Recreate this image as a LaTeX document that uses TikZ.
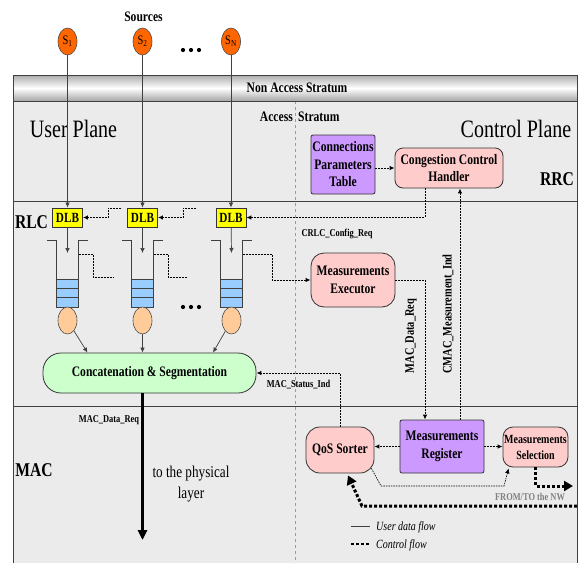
\documentclass[tikz,border=0pt]{standalone}
\usepackage{fontspec}
\setmainfont{Liberation Serif}[FakeStretch=0.8]
\usetikzlibrary{arrows.meta,shapes.geometric,calc}
\definecolor{bgray}{HTML}{EBEBEB}
\definecolor{purp}{HTML}{CC99FF}
\definecolor{pinkb}{HTML}{FFCCCC}
\definecolor{lgreen}{HTML}{CCFFCC}
\definecolor{peach}{HTML}{FFCC99}
\definecolor{qblue}{HTML}{99CCFF}
\definecolor{srcor}{HTML}{FF6600}
\definecolor{dlby}{HTML}{FFFF00}
\tikzset{
 frm/.style={draw=black!75, line width=0.8pt},
 bx/.style={draw=black!80, line width=0.8pt, align=center, inner sep=0pt, font=\bfseries\fontsize{14.5}{17.5}\selectfont},
 rbx/.style={bx, rounded corners=9pt},
 usr/.style={draw=black!75, line width=0.7pt},
 ctl/.style={draw=black, line width=1pt, dash pattern=on 2pt off 1pt},
 thinctl/.style={draw=black, line width=0.6pt, dash pattern=on 1.5pt off 1pt},
 bigctl/.style={draw=black, line width=3pt, dash pattern=on 3pt off 2pt},
 tip/.style={-{Latex[length=5pt,width=4.5pt]}},
 bigtip/.style={-{Triangle[length=9pt,width=10pt]}},
 lbl/.style={font=\bfseries\fontsize{10.5}{12}\selectfont, inner sep=0pt},
 vlbl/.style={font=\bfseries\fontsize{13}{15}\selectfont, inner sep=0pt, rotate=90},
 ttl/.style={font=\bfseries\fontsize{14.5}{17}\selectfont, inner sep=0pt},
 big/.style={font=\fontsize{25}{30}\selectfont, inner sep=0pt},
 layername/.style={font=\bfseries\fontsize{19.5}{22}\selectfont, inner sep=0pt},
 src/.style={ellipse, draw=black!70, line width=0.6pt, fill=srcor, minimum width=19pt, minimum height=27pt, inner sep=0pt, font=\fontsize{13}{15}\selectfont},
 pch/.style={ellipse, draw=black!70, line width=0.6pt, fill=peach, minimum width=19pt, minimum height=27pt, inner sep=0pt},
 dlbbox/.style={draw=black!80, line width=0.8pt, fill=dlby, minimum width=30pt, minimum height=19pt, inner sep=0pt, font=\bfseries\fontsize{14}{16}\selectfont},
 qblk/.style={draw=black!75, line width=0.6pt, fill=qblue},
 wall/.style={draw=black!75, line width=0.8pt},
}
\begin{document}
\begin{tikzpicture}[x=1pt,y=-1pt]
\useasboundingbox (0,0) rectangle (578,563);
% backgrounds
\fill[white] (0,0) rectangle (578,563);
\fill[bgray] (13,101) rectangle (577,563);
\shade[top color=gray!65, bottom color=gray!70, middle color=white] (13,75) rectangle (577,101);
\draw[gray!80, dashed, line width=0.7pt] (295,101) -- (295,563);
\draw[frm] (13,563) -- (13,75) -- (577,75) -- (577,563);
\draw[frm] (13,101) -- (577,101);
\draw[frm] (13,201) -- (577,201);
\draw[frm] (13,406) -- (577,406);

% titles
\node[ttl, anchor=base] (srclbl) at (143.5,21) {Sources};
\node[ttl] (nas) at (297,88) {Non Access Stratum};
\node[ttl, anchor=base east] (as1) at (293,121) {Access};
\node[ttl, anchor=base west] (as2) at (298,121) {Stratum};
\node[big, anchor=base] (up) at (73.5,137) {User Plane};
\node[big, anchor=base] (cp) at (516,137) {Control Plane};
\node[layername, anchor=base] (rrc) at (557,185) {RRC};
\node[layername, anchor=base] (rlc) at (31.5,228) {RLC};
\node[layername, anchor=base] (mac) at (34,476) {MAC};

% sources
\node[src] (s1) at (67.5,41.5) {S\textsubscript{1}};
\node[src] (s2) at (142.5,41.5) {S\textsubscript{2}};
\node[src] (sn) at (231,41.5) {S\textsubscript{N}};
\foreach \xx in {183,191,199} { \fill (\xx,50) circle (2.1); \fill (\xx,307) circle (2.1); }

% DLBs
\node[dlbbox] (dlb1) at (67.5,217.5) {DLB};
\node[dlbbox] (dlb2) at (142.5,217.5) {DLB};
\node[dlbbox] (dlb3) at (231,217.5) {DLB};
\draw[usr, tip] (s1) -- (dlb1);
\draw[usr, tip] (s2) -- (dlb2);
\draw[usr, tip] (sn) -- (dlb3);

% queues
\foreach \cx/\nm in {67.5/1,142.5/2,231.5/3} {
  \draw[wall] (\cx-20.5,240) -- (\cx-11,240) -- (\cx-11,279);
  \draw[wall] (\cx+11,279) -- (\cx+11,240) -- (\cx+20.5,240);
  \filldraw[qblk] (\cx-11,279) rectangle (\cx+11,288.3);
  \filldraw[qblk] (\cx-11,288.3) rectangle (\cx+11,297.6);
  \filldraw[qblk] (\cx-11,297.6) rectangle (\cx+11,307);
  \coordinate (qin\nm) at (\cx,253);
  \coordinate (qout\nm) at (\cx+11,254);
}
\draw[usr, tip] (dlb1) -- (qin1);
\draw[usr, tip] (dlb2) -- (qin2);
\draw[usr, tip] (dlb3) -- (qin3);
\node[pch] (e1) at (67.5,320.5) {};
\node[pch] (e2) at (142.5,320.5) {};
\node[pch] (e3) at (231.5,320.5) {};

% boxes
\node[bx, fill=purp, rounded corners=2pt, minimum width=64pt, minimum height=59pt] (cpt) at (343,164.5) {Connections\\Parameters\\Table};
\node[rbx, fill=pinkb, rounded corners=8pt, minimum width=108pt, minimum height=40pt] (cch) at (449,168) {Congestion Control\\Handler};
\node[rbx, fill=pinkb, rounded corners=13pt, minimum width=84pt, minimum height=54pt] (me) at (353,280) {Measurements\\Executor};
\node[rbx, fill=lgreen, rounded corners=18pt, minimum width=213pt, minimum height=40pt] (cs) at (149.5,373) {Concatenation \& Segmentation};
\node[rbx, fill=pinkb, rounded corners=14pt, minimum width=68pt, minimum height=46pt] (qos) at (340,450) {QoS Sorter};
\node[bx, fill=purp, rounded corners=2pt, minimum width=84pt, minimum height=53pt] (mr) at (442,446.5) {Measurements\\Register};
\node[rbx, fill=pinkb, rounded corners=10pt, minimum width=65pt, minimum height=40pt, font=\bfseries\fontsize{12.5}{16}\selectfont] (ms) at (535.5,447) {Measurements\\Selection};

% user data to C&S
\draw[usr, tip] (e1) -- ([xshift=-62pt]cs.north);
\draw[usr, tip] (e2) -- ([xshift=-7pt]cs.north);
\draw[usr, tip] (e3) -- ([xshift=63.5pt]cs.north);
\coordinate (phys) at (142.5,540);
\draw[line width=3pt, -{Triangle[length=10pt,width=9pt]}] (phys |- cs.south) -- (phys);
\node[lbl, anchor=base] (mdr1) at (109,422) {MAC\_Data\_Req};
\node[font=\fontsize{16.5}{21}\selectfont, align=center, inner sep=0pt, anchor=north] (tpl) at (191,466) {to the physical\\layer};

% control into DLBs
\coordinate (c1) at (121,208);
\coordinate (c2) at (196,208);
\draw[ctl, tip] (c1) -| (108,217.5) -- (dlb1.east);
\draw[ctl, tip] (c2) -| (183,217.5) -- (dlb2.east);
\draw[ctl, tip] ([xshift=-24pt]cch.south) |- (dlb3.east);
\node[lbl, anchor=base] (crlc) at (337,236) {CRLC\_Config\_Req};

% queue outputs
\coordinate (qe1) at (113,277);
\coordinate (qe2) at (187,277);
\draw[ctl] (qout1) -| (93,277) -- (qe1);
\draw[ctl] (qout2) -| (168,277) -- (qe2);
\draw[ctl, tip] (qout3) -| (272,280) -- (me.west);

% connections plane
\draw[ctl, tip] (cpt.east |- cch.west) -- (cch.west);
\draw[ctl, tip] (me.east) -| ([xshift=-17pt]mr.north);
\draw[ctl, tip] ([xshift=18pt]mr.north) -- ([xshift=18pt]mr.north |- cch.south);
\node[vlbl] (mdr2) at (411,336) {MAC\_Data\_Req};
\node[vlbl] (cmac) at (448,314) {CMAC\_Measurement\_Ind};

% MAC status
\draw[ctl, tip] (qos.north) |- (cs.east);
\node[lbl, anchor=base] (msi) at (298.5,387) {MAC\_Status\_Ind};

% MAC region
\draw[ctl, tip] (mr.west) -- (mr.west -| qos.east);
\draw[ctl, tip] (mr.east) -- (mr.east -| ms.west);
\draw[thinctl, tip] ([xshift=-3pt,yshift=5pt]qos.south east) -- (381,486) -- (504,486) -- ([xshift=6pt,yshift=-1pt]ms.south west);
\coordinate (nw1) at (573,486);
\draw[bigctl, bigtip] (ms.south) |- (nw1);
\coordinate (nw2) at (577,506);
\draw[bigctl, bigtip] (nw2) -- (362,506) -- ([xshift=8pt,yshift=-2pt]qos.south);
\node[lbl, text=gray, anchor=base] (nwl) at (530,500) {FROM/TO the NW};

% legend
\draw[usr] (351,526) -- (370,526);
\node[font=\itshape\fontsize{12.5}{14}\selectfont, anchor=base west, inner sep=0pt] (lg1) at (376,530) {User data flow};
\draw[bigctl, line width=2.5pt] (351,544) -- (369,544);
\node[font=\itshape\fontsize{12.5}{14}\selectfont, anchor=base west, inner sep=0pt] (lg2) at (376,548) {Control flow};
\end{tikzpicture}
\end{document}
